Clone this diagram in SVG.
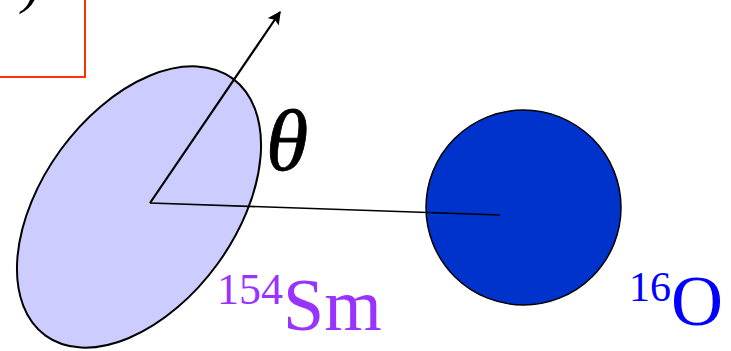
<svg xmlns="http://www.w3.org/2000/svg" width="731" height="351" viewBox="0 0 731 351">
<style>
.serif{font-family:"Liberation Serif","Times New Roman",serif}
.conn{stroke:#000;fill:none}
</style>
<defs>
<marker id="ah" viewBox="0 0 10 10" refX="9" refY="5" markerWidth="7" markerHeight="6" orient="auto" markerUnits="strokeWidth">
<path d="M0,0 L10,5 L0,10 L2,5 z" fill="#000"/>
</marker>
</defs>
<rect width="731" height="351" fill="#fff"/>
<g id="box">
<rect x="-20" y="-20" width="105" height="97" fill="none" stroke="#FF3300" stroke-width="2"/>
<text class="serif" x="22" y="2" font-size="56" font-style="italic">)</text>
</g>
<g id="sm154">
<ellipse cx="139" cy="207" rx="159" ry="97" transform="rotate(-54 139 207)" fill="#CCCCFF" stroke="#000" stroke-width="2"/>
<text class="serif" x="217" y="330" fill="#9933FF"><tspan font-size="44" dy="-26">154</tspan><tspan font-size="74" dy="26">Sm</tspan></text>
</g>
<g id="o16">
<circle cx="523.5" cy="207.5" r="97.5" fill="#0033CC" stroke="#000" stroke-width="1.5"/>
<text class="serif" x="629" y="325" fill="#0000FF"><tspan font-size="42" dy="-24">16</tspan><tspan font-size="72" dy="24">O</tspan></text>
</g>
<g id="connectors">
<line class="conn" x1="150" y1="203" x2="280" y2="12" stroke-width="2.2" marker-end="url(#ah)"/>
<line class="conn" x1="150" y1="203" x2="500" y2="215" stroke-width="1.6"/>
</g>
<g id="theta">
<text class="serif" x="266" y="170" font-size="86" font-style="italic" stroke="#000" stroke-width="0.8">θ</text>
</g>
</svg>
